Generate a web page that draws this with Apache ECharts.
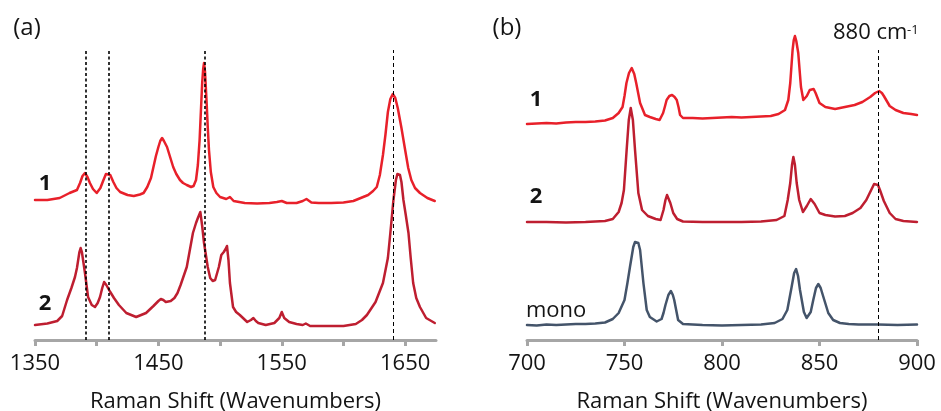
<!DOCTYPE html>
<html>
<head>
<meta charset="utf-8">
<script src="https://cdn.jsdelivr.net/npm/echarts@6/dist/echarts.min.js"></script>
<style>
html,body{margin:0;padding:0;background:#fff;}
#chart{width:941px;height:411px;}
</style>
</head>
<body>
<div id="chart"></div>
<script>
// ---- Panel (a): 1350–1675 cm-1 (intensity values include vertical offset) ----
var spec1A = [[1350,140],[1360,140],[1370,142],[1378,147],[1384,150],[1386.5,157],[1388.5,164],[1390.5,167],[1392.5,163],[1394.5,157],[1397,151],[1400,147],[1403,152],[1405.5,160],[1407.5,166],[1409,168],[1411,165],[1413.5,158],[1416,152],[1419,148],[1425,145],[1430,144],[1435,145.5],[1438,147],[1441,153],[1444,162],[1446,173],[1448,184],[1450,193],[1451.5,199],[1453,202],[1454.5,199],[1457,193],[1459.5,183],[1462,173],[1464.5,166],[1467.5,160],[1470,157],[1473,155],[1476.5,153],[1478.5,154],[1480.5,160],[1482,175],[1483.4,200],[1484.5,230],[1485.5,257],[1486.3,271],[1487,277],[1487.8,268],[1489,240],[1490,213],[1491,190],[1492.5,168],[1494.5,153],[1497,147],[1500,143],[1505,141],[1508,143],[1511,139],[1520,137],[1530,136.5],[1540,137],[1546,138],[1550,139],[1554,137],[1562,137],[1567,139],[1570,141],[1574,137.5],[1580,137],[1590,137],[1600,137.5],[1608,139],[1614,142],[1620,145],[1624,149],[1627,153],[1629.5,165],[1632,185],[1634,205],[1636,228],[1638,241],[1640,246],[1642,242],[1644,232],[1647,212],[1650,190],[1652.5,172],[1655,160],[1658,152],[1662,147],[1668,142],[1674,139]];
var spec2A = [[1350,15],[1360,16.5],[1368,19],[1372,24],[1376,40],[1379.5,52],[1382.4,63],[1384,72],[1385,80],[1386,88],[1387,92],[1388,88],[1389.2,78],[1390.5,67],[1393,43],[1396,35],[1398.6,33],[1400.8,37],[1402.7,43],[1404.5,52],[1406,58],[1407.8,55],[1411,48],[1414,42],[1418,35],[1424,27],[1432,23],[1440,27],[1446,34],[1450,39],[1452,41],[1454,40],[1456,38],[1460,39],[1463,42],[1465.5,47],[1468,55],[1473,73],[1478,107],[1480.5,117],[1482,122],[1484,128],[1485.5,114],[1487,97],[1490,73],[1492,62],[1494,59],[1496,60],[1499,73],[1501,85],[1503,88],[1504.5,91],[1505.6,94],[1506.8,80],[1508,57],[1510.5,33],[1513,28],[1516,25],[1522,18],[1525,20],[1527,22],[1529,19],[1531,17],[1537,15],[1544,17],[1548,22],[1550,28],[1552,22],[1556,18],[1562,16],[1567,15],[1569.5,16.5],[1573,14],[1580,14],[1600,14],[1610,16],[1615,20],[1619,25],[1626,38],[1632,57],[1636,82],[1638,107],[1640.5,140],[1642.5,160],[1643.7,166],[1644.7,168],[1645.8,165],[1647,158],[1648.6,140],[1650.5,125],[1652.7,107],[1654.5,82],[1656.5,57],[1659,42],[1662,33],[1667,22],[1674,17]];
var markersA = [1390.8, 1409.5, 1487.6, 1640.6];
var ticksA = [1350,1400,1450,1500,1550,1600,1650];
var labelsA = [1350,1450,1550,1650];

// ---- Panel (b): 700–900 cm-1 ----
var spec1B = [[700,216],[705,216.5],[710,217],[715,216.5],[720,217.5],[725,218],[730,218],[735,218.5],[740,219.5],[744,222],[747,227],[749,233],[750,244],[751,257],[752.3,267],[753.7,272],[755,266],[756,257],[757,247],[758,237],[760.5,225],[763,223],[766,221],[768,220],[769.8,227],[770.8,234],[771.6,240],[773,244],[774.4,245],[775.7,243],[776.8,240],[777.7,233],[778.5,225],[780,222],[785,222],[790,221.5],[795,222],[800,222.5],[805,223],[810,222.5],[815,223],[820,223.5],[825,224],[829,226],[832.3,230],[834,240],[835,257],[836.2,290],[836.8,300],[837.4,304],[838.1,299],[839.1,287],[840.5,253],[841.7,240],[843.5,244],[845,250],[846,252],[847,251],[848,247],[850,237],[853,233],[858,231],[863,233],[868,235],[872,238],[876,243],[878.5,247],[880.6,249],[882,247],[883,244],[886,234],[889,230],[893,227],[897,226],[900,225]];
var spec2B = [[700,118],[710,118],[720,117.5],[730,118],[740,119],[744,121],[747,128],[748.5,137],[749.7,150],[751.1,190],[752.2,220],[753.2,232],[754.3,220],[755.4,190],[757.1,147],[759,130],[762,124],[766,121],[768.5,120],[770,130],[771,140],[771.8,145],[772.7,143],[773.5,137],[775,127],[777,121],[780,118.5],[790,118],[800,118],[810,118],[820,118.5],[828,120],[832,124],[833.7,140],[835,157],[835.9,175],[836.6,183],[837.4,175],[838.3,157],[839.6,140],[841.5,128],[843.5,134],[845.5,141],[847.5,136],[850,127],[853,125],[858,123.5],[863,124],[867,127],[871,132],[874,140],[877,152],[878,156],[879,157],[880,155],[881,150],[883,139],[886,127],[889,121],[893,119],[900,118]];
var monoB = [[700,15],[705,14.5],[710,15.5],[715,15],[720,15.5],[725,16],[730,16],[735,16.5],[740,17.5],[744,21],[747,27],[750,40],[751.5,57],[752.8,73],[754.5,93],[755.4,98],[756.2,100],[757.1,97],[758,90],[759.7,57],[761.4,30],[763,23],[766.5,18.5],[769,21],[770,27],[771,35],[772.5,45],[773.8,49],[774.8,45],[775.5,40],[776.5,30],[777.5,20],[780,16],[790,15],[800,14.5],[810,15],[820,15.5],[827,17],[831,21],[833.5,30],[835.7,53],[837,67],[838,71],[839,64],[840,50],[842,28],[843.4,22],[845.5,28],[846.8,40],[848.2,52],[849.4,56],[850.6,52],[852,43],[854.5,27],[857,20],[860.5,17],[865,16],[870,15.5],[880,15.5],[890,15],[900,15.5]];
var markersB = [880];
var ticksB = [700,750,800,850,900];

var FONT = '"Open Sans", "Liberation Sans", sans-serif';
var C1 = '#e8202a', C2 = '#be1e30', CM = '#44546a', AX = '#a6a6a6', TXT = '#141414';
var MARK_TOP = 290;

function xAxisOf(grid, min, max, ticks, labels) {
  return {
    type: 'value', gridIndex: grid, min: min, max: max,
    name: 'Raman Shift (Wavenumbers)', nameLocation: 'middle', nameGap: 51,
    nameTextStyle: {fontFamily: FONT, fontSize: 22, color: TXT},
    axisLine: {show: true, lineStyle: {color: AX, width: 3, cap: 'round'}},
    axisTick: {show: true, length: 6, customValues: ticks, lineStyle: {color: AX, width: 3}},
    axisLabel: {customValues: labels, margin: 13, fontFamily: FONT, fontSize: 22, color: TXT,
      formatter: function (v) { return String(v); }},
    splitLine: {show: false}
  };
}
function yAxisOf(grid) {
  return {type: 'value', gridIndex: grid, min: 0, max: 310, show: false, splitLine: {show: false}};
}
function markLineOf(values, style) {
  return {
    silent: true, symbol: 'none', label: {show: false},
    lineStyle: style,
    data: values.map(function (v) { return [{coord: [v, 0]}, {coord: [v, MARK_TOP]}]; })
  };
}
function lineOf(name, data, color, xi) {
  return {
    name: name, type: 'line', xAxisIndex: xi, yAxisIndex: xi, data: data,
    showSymbol: false, smooth: false, clip: false,
    lineStyle: {color: color, width: 2.5, join: 'round', cap: 'round'}, itemStyle: {color: color}, z: 3
  };
}
function markerSeries(xi, values, style) {
  return {type: 'line', xAxisIndex: xi, yAxisIndex: xi, data: [], z: 10, markLine: markLineOf(values, style)};
}

var chart = echarts.init(document.getElementById('chart'), null, {renderer: 'canvas'});
chart.setOption({
  backgroundColor: '#ffffff',
  animation: false,
  grid: [
    {left: 35, top: 30, width: 401, height: 310, containLabel: false, outerBoundsMode: 'none'},
    {left: 527, top: 30, width: 390, height: 310, containLabel: false, outerBoundsMode: 'none'}
  ],
  xAxis: [
    xAxisOf(0, 1350, 1675, ticksA, labelsA),
    xAxisOf(1, 700, 900, ticksB, ticksB)
  ],
  yAxis: [yAxisOf(0), yAxisOf(1)],
  series: [
    lineOf('1 (a)', spec1A, C1, 0),
    lineOf('2 (a)', spec2A, C2, 0),
    markerSeries(0, markersA.slice(0, 3), {color: '#000', width: 1.6, type: [3, 2.5]}),
    markerSeries(0, markersA.slice(3), {color: '#000', width: 1, type: [4, 3]}),
    lineOf('1 (b)', spec1B, C1, 1),
    lineOf('2 (b)', spec2B, C2, 1),
    lineOf('mono', monoB, CM, 1),
    markerSeries(1, markersB, {color: '#000', width: 1, type: [4, 3]})
  ],
  graphic: [
    {type: 'text', x: 27, y: 28, style: {text: '(a)', font: '24px ' + FONT, fill: TXT, align: 'center', verticalAlign: 'middle'}},
    {type: 'text', x: 507, y: 28, style: {text: '(b)', font: '24px ' + FONT, fill: TXT, align: 'center', verticalAlign: 'middle'}},
    {type: 'text', x: 45, y: 184, style: {text: '1', font: 'bold 22px ' + FONT, fill: TXT, align: 'center', verticalAlign: 'middle'}},
    {type: 'text', x: 45, y: 304, style: {text: '2', font: 'bold 22px ' + FONT, fill: TXT, align: 'center', verticalAlign: 'middle'}},
    {type: 'text', x: 536, y: 100, style: {text: '1', font: 'bold 22px ' + FONT, fill: TXT, align: 'center', verticalAlign: 'middle'}},
    {type: 'text', x: 536, y: 197, style: {text: '2', font: 'bold 22px ' + FONT, fill: TXT, align: 'center', verticalAlign: 'middle'}},
    {type: 'text', x: 526, y: 311, style: {text: 'mono', font: '22px ' + FONT, fill: TXT, align: 'left', verticalAlign: 'middle'}},
    {type: 'text', x: 833, y: 33, style: {text: '880 cm', font: '22px ' + FONT, fill: TXT, align: 'left', verticalAlign: 'middle'}},
    {type: 'text', x: 907, y: 30, style: {text: '-1', font: '13px ' + FONT, fill: TXT, align: 'left', verticalAlign: 'middle'}}
  ]
});
</script>
</body>
</html>
